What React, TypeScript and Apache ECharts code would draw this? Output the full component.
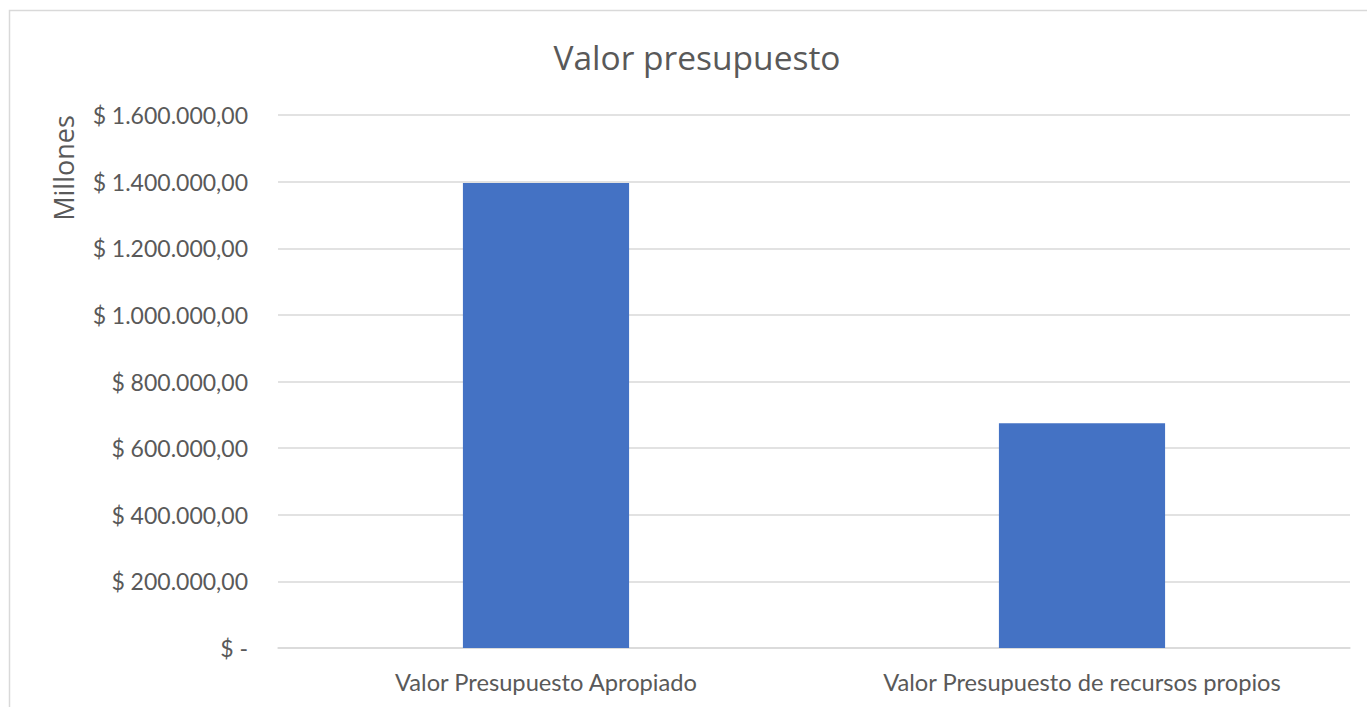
import React, { useEffect, useRef } from "react";
import * as echarts from "echarts";

const categories = ["Valor Presupuesto Apropiado", "Valor Presupuesto de recursos propios"];
const values = [1396000, 675000];
const yTicks = [0, 200000, 400000, 600000, 800000, 1000000, 1200000, 1400000, 1600000];

function fmt(v: number): string {
  if (v === 0) return "$ -";
  const s = Math.round(v).toString().replace(/\B(?=(\d{3})+(?!\d))/g, ".");
  return "$ " + s + ",00";
}

export default function App() {
  const ref = useRef<HTMLDivElement>(null);
  useEffect(() => {
    if (!ref.current) return;
    const chart = echarts.init(ref.current, undefined, { renderer: "svg" });
    chart.setOption({
      animation: false,
      backgroundColor: "#ffffff",
      title: {
        text: "Valor presupuesto",
        left: 692,
        top: 35,
        textAlign: "center",
        textStyle: { fontFamily: "Open Sans", fontSize: 33.5, fontWeight: "normal", color: "#595959" },
      },
      graphic: [
        {
          type: "rect",
          shape: { x: 9.5, y: 10.5, width: 1400, height: 800 },
          style: { fill: "none", stroke: "#d9d9d9", lineWidth: 1.5 },
          silent: true,
          z: -1,
        },
        {
          type: "text",
          x: 63,
          y: 168,
          rotation: Math.PI / 2,
          style: {
            text: "Millones",
            fontFamily: "Open Sans",
            fontSize: 27,
            fill: "#595959",
            align: "center",
            verticalAlign: "middle",
          },
        },
      ],
      grid: { left: 278, right: 17, top: 115, bottom: 59, containLabel: false },
      xAxis: {
        type: "category",
        data: categories,
        axisLine: { show: true, lineStyle: { color: "#d9d9d9", width: 1.5 } },
        axisTick: { show: false },
        axisLabel: { color: "#595959", fontFamily: "Lato", fontSize: 23.7, margin: 22 },
      },
      yAxis: {
        type: "value",
        min: yTicks[0],
        max: yTicks[yTicks.length - 1],
        interval: yTicks[1] - yTicks[0],
        axisLine: { show: false },
        axisTick: { show: false },
        splitLine: { lineStyle: { color: "#d9d9d9", width: 1.5 } },
        axisLabel: {
          color: "#595959",
          fontFamily: "Lato",
          fontSize: 23,
          margin: 30,
          formatter: (v: number) => fmt(v),
        },
      },
      series: [
        {
          type: "bar",
          data: values,
          barWidth: "31%",
          itemStyle: { color: "#4472c4" },
        },
      ],
    });
    return () => chart.dispose();
  }, []);
  return (
    <div
      ref={ref}
      style={{ position: "fixed", left: 0, top: 0, width: 1367, height: 707 }}
    />
  );
}
